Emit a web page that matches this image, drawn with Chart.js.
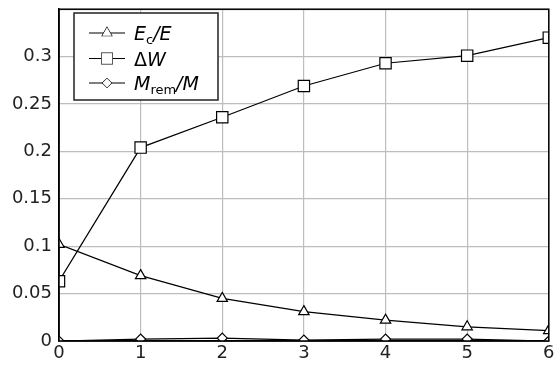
<!DOCTYPE html>
<html>
<head>
<meta charset="utf-8">
<script src="https://cdn.jsdelivr.net/npm/chart.js@4/dist/chart.umd.min.js"></script>
<style>
  html, body { margin: 0; padding: 0; background: #fff; }
  #wrap { width: 558px; height: 365px; }
</style>
</head>
<body>
<div id="wrap"><canvas id="chart"></canvas></div>
<script>
// data
var steps = [0, 1, 2, 3, 4, 5, 6];
var ecE = [0.102, 0.069, 0.045, 0.031, 0.022, 0.015, 0.011];
var deltaW = [0.063, 0.204, 0.236, 0.269, 0.293, 0.301, 0.320];
var mRem = [0.0, 0.002, 0.003, 0.001, 0.002, 0.002, 0.0];
var yTicks = [0, 0.05, 0.1, 0.15, 0.2, 0.25, 0.3];

var FONT = "'DejaVu Sans', sans-serif";
var RADIUS = { triangle: 6, rect: 8, rectRot: 5 };

function pts(ys) {
  return steps.map(function (x, i) { return { x: x, y: ys[i] }; });
}

function ds(label, ys, style) {
  return {
    label: label,
    data: pts(ys),
    borderColor: '#000',
    borderWidth: 1.2,
    backgroundColor: '#fff',
    pointStyle: style,
    pointRadius: RADIUS[style],
    pointBorderWidth: 1.2,
    pointBorderColor: '#000',
    pointBackgroundColor: '#fff',
    tension: 0,
    clip: 0
  };
}

// legend with subscripts, drawn by hand
var legendPlugin = {
  id: 'mathLegend',
  afterDraw: function (chart) {
    var c = chart.ctx;
    var ca = chart.chartArea;
    c.save();
    // frame round plot
    c.strokeStyle = '#000';
    c.lineWidth = 1.5;
    c.strokeRect(ca.left, ca.top, ca.right - ca.left, ca.bottom - ca.top);

    var bx = 74, by = 13, bw = 144, bh = 87;
    c.fillStyle = '#fff';
    c.fillRect(bx, by, bw, bh);
    c.strokeStyle = '#222';
    c.lineWidth = 1.5;
    c.strokeRect(bx, by, bw, bh);

    var rows = [33, 58.5, 83];
    var styles = ['triangle', 'rect', 'rectRot'];
    rows.forEach(function (y, i) {
      c.strokeStyle = '#000';
      c.lineWidth = 1.2;
      c.beginPath();
      c.moveTo(89, y);
      c.lineTo(125, y);
      c.stroke();
      c.fillStyle = '#fff';
      Chart.helpers.drawPoint(c, {
        pointStyle: styles[i],
        radius: RADIUS[styles[i]] - 0.5,
        borderWidth: 1.2
      }, 107, y);
      c.fill();
    });

    c.fillStyle = '#000';
    c.textBaseline = 'alphabetic';
    var big = 'italic 19px ' + FONT;
    var sub = '13px ' + FONT;
    var x;
    // E_c/E
    x = 134;
    c.font = big; c.fillText('E', x, 40); x += c.measureText('E').width;
    c.font = sub; c.fillText('c', x, 44); x += c.measureText('c').width;
    c.font = big; c.fillText('/E', x, 40);
    // ΔW
    x = 134;
    c.font = '19px ' + FONT; c.fillText('Δ', x, 65.5); x += c.measureText('Δ').width;
    c.font = big; c.fillText('W', x, 65.5);
    // M_rem/M
    x = 134;
    c.font = big; c.fillText('M', x, 90); x += c.measureText('M').width;
    c.font = sub; c.fillText('rem', x, 94); x += c.measureText('rem').width;
    c.font = big; c.fillText('/M', x, 90);
    c.restore();
  }
};

new Chart(document.getElementById('chart'), {
  type: 'line',
  data: {
    datasets: [
      ds('Ec/E', ecE, 'triangle'),
      ds('ΔW', deltaW, 'rect'),
      ds('Mrem/M', mRem, 'rectRot')
    ]
  },
  options: {
    responsive: true,
    maintainAspectRatio: false,
    animation: false,
    layout: { padding: { top: 5, right: 3, left: 0, bottom: 0 } },
    plugins: {
      legend: { display: false },
      tooltip: { enabled: false }
    },
    scales: {
      x: {
        type: 'linear',
        min: 0,
        max: 6,
        afterFit: function (s) { s.height = 24; s.paddingLeft = 0; s.paddingRight = 0; },
        grid: { color: '#bdbdbd', lineWidth: 1.2, drawTicks: false },
        border: { color: '#000', width: 1.5 },
        ticks: {
          stepSize: 1,
          color: '#222',
          padding: 2,
          font: { family: FONT, size: 18 }
        }
      },
      y: {
        type: 'linear',
        min: 0,
        max: 0.35,
        afterFit: function (s) { s.width = 59; s.paddingTop = 0; s.paddingBottom = 0; },
        afterBuildTicks: function (s) {
          s.ticks = yTicks.concat([0.35]).map(function (v) { return { value: v }; });
        },
        grid: { color: '#bdbdbd', lineWidth: 1.2, drawTicks: false },
        border: { color: '#000', width: 1.5 },
        ticks: {
          color: '#222',
          padding: 7,
          font: { family: FONT, size: 18 },
          callback: function (v) { return v > 0.31 ? '' : String(v); }
        }
      }
    }
  },
  plugins: [legendPlugin]
});
</script>
</body>
</html>
